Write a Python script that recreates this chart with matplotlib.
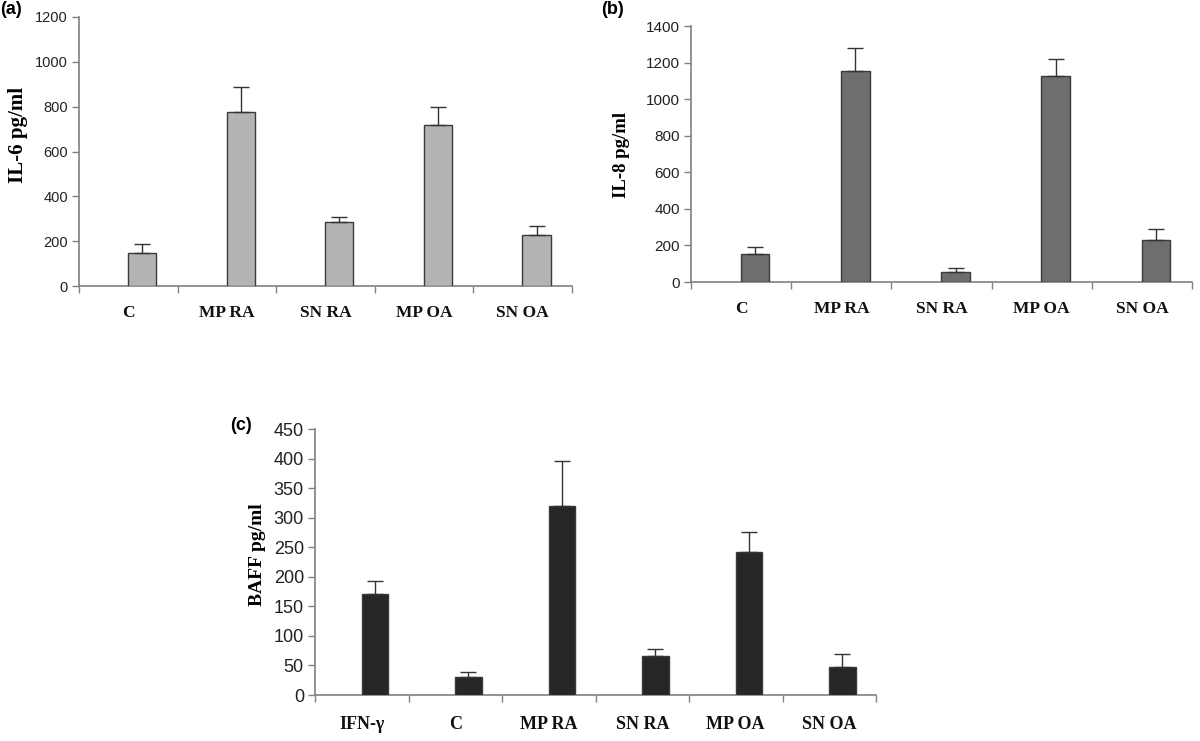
import numpy as np
import matplotlib.pyplot as plt

# values (mean, upper error = SEM)
cats_ab = ['C', 'MP RA', 'SN RA', 'MP OA', 'SN OA']
cats_c = ['IFN-γ', 'C', 'MP RA', 'SN RA', 'MP OA', 'SN OA']

il6_mean = [147, 776, 285, 718, 228]
il6_sem = [40, 112, 23, 80, 40]

il8_mean = [153, 1154, 55, 1125, 230]
il8_sem = [38, 126, 22, 95, 60]

baff_mean = [171, 30, 320, 66, 242, 47]
baff_sem = [22, 9, 76, 12, 34, 22]

W, H = 1200, 741
fig = plt.figure(figsize=(12, 7.41), dpi=100)
fig.patch.set_facecolor('white')


def box(left, right, top, bottom):
    return [left / W, 1 - bottom / H, (right - left) / W, (bottom - top) / H]


def panel(rect, cats, mean, sem, color, ymax, ystep, tick_fs, cat_fs, cat_pad):
    ax = fig.add_axes(rect)
    n = len(cats)
    x = np.arange(n)
    ax.bar(x + 0.14, mean, width=0.285, color=color, edgecolor='#3a3a3a',
           linewidth=1.0, yerr=[np.zeros(n), sem], zorder=3,
           error_kw=dict(ecolor='#333333', elinewidth=1.0, capsize=6, capthick=1.0))
    ax.set_xlim(-0.5, n - 0.5)
    ax.set_ylim(0, ymax)
    ax.set_yticks(np.arange(0, ymax + 1, ystep))
    ax.set_xticks(np.arange(n + 1) - 0.5)
    ax.set_xticklabels([])
    ax.set_xticks(x, minor=True)
    ax.set_xticklabels(cats, minor=True, fontsize=cat_fs, fontweight='bold',
                       family='Liberation Serif', color='#111111')
    ax.tick_params(axis='x', which='minor', length=0, pad=cat_pad)
    ax.tick_params(axis='x', which='major', direction='out', length=5,
                   color='#808080', width=1.0)
    ax.tick_params(axis='y', direction='out', length=5, color='#808080',
                   width=1.0, labelsize=tick_fs, labelcolor='#222222', pad=3)
    for lab in ax.get_yticklabels():
        lab.set_family('Liberation Sans')
    for s in ['top', 'right']:
        ax.spines[s].set_visible(False)
    for s in ['left', 'bottom']:
        ax.spines[s].set_color('#808080')
        ax.spines[s].set_linewidth(1.2)
    return ax


ax1 = panel(box(79, 572, 17, 286), cats_ab, il6_mean, il6_sem, '#b4b4b4',
            1200, 200, 10.5, 12.5, 14)
ax2 = panel(box(691, 1192, 26, 282), cats_ab, il8_mean, il8_sem, '#6e6e6e',
            1400, 200, 11, 12.5, 14)
ax3 = panel(box(315, 876, 429, 695), cats_c, baff_mean, baff_sem, '#262626',
            450, 50, 13, 13, 15)

fig.text(18 / W, 1 - 135 / H, 'IL-6 pg/ml', rotation=90, ha='center', va='center',
         fontsize=15, fontweight='bold', family='Liberation Serif')
fig.text(621 / W, 1 - 155 / H, 'IL-8 pg/ml', rotation=90, ha='center', va='center',
         fontsize=13.5, fontweight='bold', family='Liberation Serif')
fig.text(258 / W, 1 - 555 / H, 'BAFF pg/ml', rotation=90, ha='center', va='center',
         fontsize=14, fontweight='bold', family='Liberation Serif')

fig.text(11 / W, 1 - 10 / H, '(a)', ha='center', va='center', fontsize=13,
         fontweight='bold', family='Liberation Sans')
fig.text(613 / W, 1 - 10 / H, '(b)', ha='center', va='center', fontsize=13,
         fontweight='bold', family='Liberation Sans')
fig.text(241 / W, 1 - 425 / H, '(c)', ha='center', va='center', fontsize=13,
         fontweight='bold', family='Liberation Sans')

fig.savefig('out.png', dpi=100)
